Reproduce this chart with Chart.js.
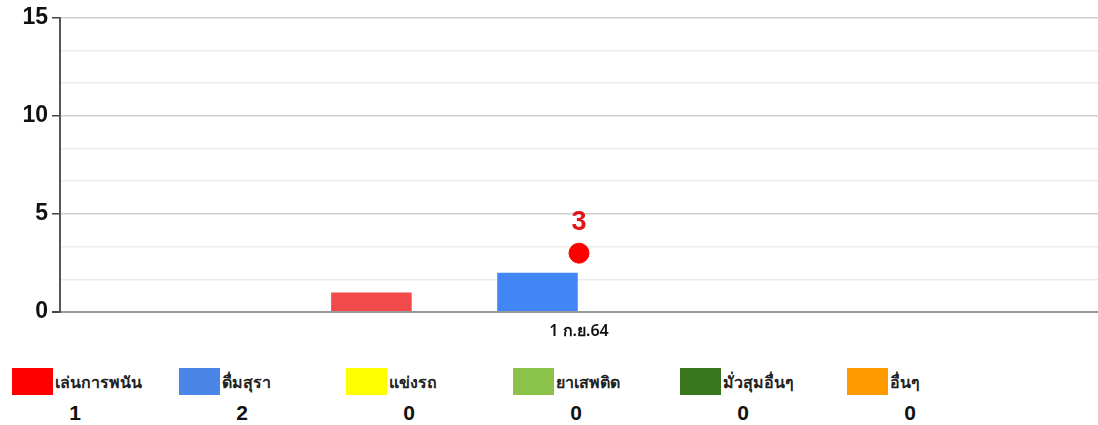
<!DOCTYPE html>
<html>
<head>
<meta charset="utf-8">
<script src="https://cdn.jsdelivr.net/npm/chart.js@4"></script>
<style>
  body { margin: 0; background: #fff; font-family: "Noto Sans", "DejaVu Sans", sans-serif; }
  #wrap { position: relative; width: 1098px; height: 425px; overflow: hidden; }
  #box { position: absolute; left: 0; top: 0; width: 1109px; height: 346px; }
  .item { position: absolute; top: 368px; width: 160px; height: 57px; }
  .sw { position: absolute; left: 0; top: 0; width: 41px; height: 27px; }
  .nm { position: absolute; left: 43px; top: 2px; font-size: 16px; font-weight: 600; color: #222; white-space: nowrap; }
  .ct { position: absolute; left: 43px; width: 40px; top: 33px; text-align: center;
        font: bold 21px "Liberation Sans", Arial, sans-serif; color: #111; }
</style>
</head>
<body>
<div id="wrap">
  <div id="box"><canvas id="graph"></canvas></div>
  <div id="legend"></div>
</div>
<script>
// categories and values
var dates = ['1 ก.ย.64'];
var groups = ['เล่นการพนัน', 'ดื่มสุรา', 'แข่งรถ', 'ยาเสพติด', 'มั่วสุมอื่นๆ', 'อื่นๆ'];
var counts = [1, 2, 0, 0, 0, 0];
var legendColors = ['#ff0000', '#4a86e8', '#ffff00', '#8bc34a', '#38761d', '#ff9900'];
var barColors = ['#f24a4a', '#4285f4', '#ffff00', '#8bc34a', '#38761d', '#ff9900'];
// order of the bars inside the group (as in the original chart)
var barOrder = ['เล่นการพนัน', 'แข่งรถ', 'ดื่มสุรา', 'ยาเสพติด', 'มั่วสุมอื่นๆ', 'อื่นๆ'];
var total = [3];
var yMax = 15;
var yLines = 10;

var datasets = [];
datasets.push({
  type: 'line',
  label: 'รวม',
  data: total,
  showLine: false,
  pointRadius: 10,
  pointHoverRadius: 10,
  pointBackgroundColor: '#ff0000',
  pointBorderColor: '#ff0000',
  order: 0
});
for (var i = 0; i < barOrder.length; i++) {
  var k = groups.indexOf(barOrder[i]);
  datasets.push({
    type: 'bar',
    label: groups[k],
    data: [counts[k]],
    backgroundColor: barColors[k],
    barPercentage: 0.97,
    categoryPercentage: 0.48,
    order: 1
  });
}

// draw the total above its point
var totalLabel = {
  id: 'totalLabel',
  afterDatasetsDraw: function(chart) {
    var ctx = chart.ctx;
    var meta = chart.getDatasetMeta(0);
    ctx.save();
    ctx.fillStyle = '#e41414';
    ctx.font = 'bold 27px "Liberation Sans", Arial, sans-serif';
    ctx.textAlign = 'center';
    ctx.textBaseline = 'bottom';
    meta.data.forEach(function(p, j) {
      ctx.fillText(String(total[j]), p.x, p.y - 17);
    });
    ctx.restore();
  }
};

function isMajor(v) { return Math.abs(v / 5 - Math.round(v / 5)) < 1e-6; }

var g = document.getElementById('graph').getContext('2d');
var graph = new Chart(g, {
  data: { labels: dates, datasets: datasets },
  plugins: [totalLabel],
  options: {
    responsive: true,
    maintainAspectRatio: false,
    animation: false,
    layout: { padding: { top: 5, left: 0, right: 0, bottom: 0 } },
    plugins: { legend: { display: false }, tooltip: { enabled: false } },
    scales: {
      x: {
        offset: true,
        grid: { display: false },
        border: { display: true, color: '#999', width: 2 },
        ticks: { color: '#111', font: { size: 16, weight: '600', family: 'Noto Sans' }, padding: 2 },
        afterFit: function(s) { s.height = 34; }
      },
      y: {
        min: 0,
        max: yMax,
        ticks: {
          count: yLines,
          color: '#111',
          padding: 4,
          font: { size: 23, weight: 'bold', family: 'Liberation Sans' },
          callback: function(v) { return isMajor(v) ? Math.round(v) : ''; }
        },
        grid: {
          tickLength: 8,
          color: function(c) {
            if (c.tick && c.tick.value === 0) return '#999';
            return isMajor(c.tick ? c.tick.value : 0) ? '#cfcfcf' : '#ebebeb';
          },
          lineWidth: function(c) { return (c.tick && c.tick.value === 0) ? 2 : 1.5; },
          tickColor: function(c) { return isMajor(c.tick ? c.tick.value : 0) ? '#444' : 'rgba(0,0,0,0)'; }
        },
        border: { display: true, color: '#555', width: 2 },
        afterFit: function(s) { s.width = 60; }
      }
    }
  }
});

// legend with counts
var leg = document.getElementById('legend');
for (var i = 0; i < groups.length; i++) {
  var d = document.createElement('div');
  d.className = 'item';
  d.style.left = (12 + i * 167) + 'px';
  d.innerHTML = '<div class="sw" style="background:' + legendColors[i] + '"></div>' +
    '<div class="nm">' + groups[i] + '</div>' +
    '<div class="ct">' + counts[i] + '</div>';
  leg.appendChild(d);
}
</script>
</body>
</html>
